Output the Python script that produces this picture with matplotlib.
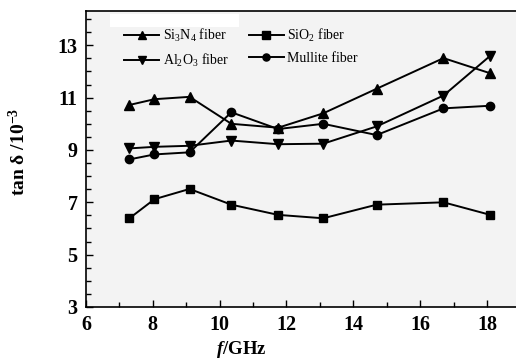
import matplotlib
matplotlib.use("Agg")
import matplotlib.pyplot as plt
from matplotlib.patches import Rectangle
from matplotlib.ticker import MultipleLocator

plt.rcParams['font.family'] = ['Liberation Serif', 'DejaVu Serif']
plt.rcParams['mathtext.fontset'] = 'custom'
plt.rcParams['mathtext.rm'] = 'Liberation Serif'
plt.rcParams['mathtext.it'] = 'Liberation Serif:italic:bold'
plt.rcParams['mathtext.bf'] = 'Liberation Serif:bold'

freq = [7.3, 8.05, 9.1, 10.35, 11.75, 13.1, 14.7, 16.7, 18.1]
si3n4 = [10.72, 10.94, 11.03, 10.0, 9.85, 10.4, 11.34, 12.51, 11.93]
sio2 = [6.39, 7.12, 7.51, 6.91, 6.52, 6.39, 6.91, 7.0, 6.52]
al2o3 = [9.06, 9.12, 9.16, 9.36, 9.22, 9.24, 9.9, 11.08, 12.6]
mullite = [8.64, 8.83, 8.91, 10.44, 9.8, 10.0, 9.57, 10.59, 10.69]

labels = [r'Si$_3$N$_4$ fiber', r'SiO$_2$ fiber', r'Al$_2$O$_3$ fiber', r'Mullite fiber']

W, H = 516, 362
fig = plt.figure(figsize=(W / 100, H / 100), dpi=100)
ax = fig.add_axes([86 / W, 55 / H, 1 - 86 / W, (307 - 11) / H])
ax.set_facecolor('#f3f3f3')

kw = dict(color='black', lw=1.4)
h1, = ax.plot(freq, si3n4, marker='^', ms=7, **kw)
h2, = ax.plot(freq, sio2, marker='s', ms=6, **kw)
h3, = ax.plot(freq, al2o3, marker='v', ms=7, **kw)
h4, = ax.plot(freq, mullite, marker='o', ms=6, **kw)

ax.add_patch(Rectangle((0.056, 0.946), 0.30, 0.044, transform=ax.transAxes,
                       facecolor='white', edgecolor='none', zorder=0.5))

ax.legend([h1, h3, h2, h4], [labels[0], labels[2], labels[1], labels[3]],
          ncol=2, frameon=False, loc='upper left', bbox_to_anchor=(0.07, 0.975),
          fontsize=10, handlelength=2.5, handletextpad=0.25, columnspacing=1.45,
          labelspacing=0.6, markerscale=0.85, borderaxespad=0.2)

ax.set_xlim(6, 18.87)
ax.set_ylim(3, 14.31)
ax.xaxis.set_major_locator(MultipleLocator(2))
ax.xaxis.set_minor_locator(MultipleLocator(1))
ax.set_yticks([3, 5, 7, 9, 11, 13])
ax.yaxis.set_minor_locator(MultipleLocator(0.5))
ax.tick_params(which='both', direction='in', width=1.0, labelsize=14.5)
ax.tick_params(which='major', length=5, pad=6)
ax.tick_params(which='minor', length=3.5)
for lab in ax.get_xticklabels() + ax.get_yticklabels():
    lab.set_fontweight('bold')
ax.spines['right'].set_visible(False)
for s in ['left', 'bottom', 'top']:
    ax.spines[s].set_linewidth(1.2)

ax.set_ylabel(r'tan δ /10$^{\mathbf{-3}}$', fontsize=14, fontweight='bold')
ax.yaxis.set_label_coords(-(86 - 19) / 430, (307 - 152) / 296)
ax.set_xlabel(r'$f$/GHz', fontsize=13.5, fontweight='bold')
ax.xaxis.set_label_coords((241 - 86) / 430, -(349 - 307) / 296)
ax.xaxis.label.set_va('center')
ax.yaxis.label.set_va('center')

fig.savefig('out.png', dpi=100)
